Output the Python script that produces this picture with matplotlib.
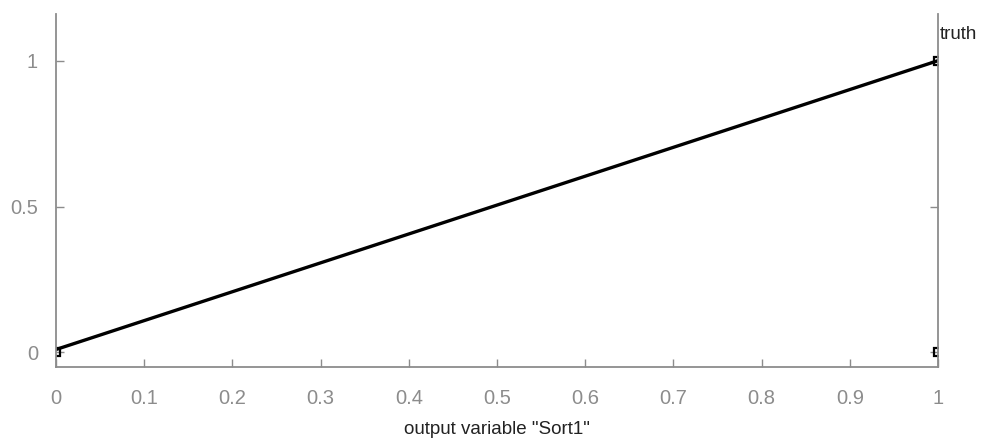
import matplotlib
matplotlib.use("Agg")
import matplotlib.pyplot as plt

plt.rcParams['font.family'] = ['Liberation Sans', 'DejaVu Sans']

# data
line_x = [0, 1]
line_y = [0.01, 1]
marker_x = [0, 1, 1]
marker_y = [0, 1, 0]
xticks = [0, 0.1, 0.2, 0.3, 0.4, 0.5, 0.6, 0.7, 0.8, 0.9, 1]
yticks = [0, 0.5, 1]

fig = plt.figure(figsize=(9.92, 4.41), dpi=100)
ax = fig.add_axes([56/992, 1 - 367/441, (938-56)/992, (367-14)/441])

ax.plot(line_x, line_y, color='black', lw=2.4)
ax.plot(marker_x, marker_y, ls='none', marker='s', ms=6, mfc='none',
        mec='black', mew=1.6)

ax.set_xlim(0, 1)
ax.set_ylim(-0.05, 1.16)
ax.set_xticks(xticks)
ax.set_xticklabels([f"{t:g}" for t in xticks])
ax.set_yticks(yticks)
ax.set_yticklabels([f"{t:g}" for t in yticks])

gray = '#8c8c8c'
for s in ['left', 'right', 'bottom']:
    ax.spines[s].set_color(gray)
    ax.spines[s].set_linewidth(1.3)
ax.spines['top'].set_visible(False)
ax.tick_params(axis='both', direction='in', colors=gray, labelsize=14.5,
               length=6, width=1)
ax.tick_params(axis='y', right=True, pad=13)
ax.tick_params(axis='x', pad=16)

ax.text(1.002, 1.09, 'truth', fontsize=13.5, color='#222222', ha='left', va='center',
        transform=ax.transData, clip_on=False)
ax.set_xlabel('output variable "Sort1"', fontsize=13.5, color='#222222', labelpad=9)

fig.savefig('out.png', dpi=100)
